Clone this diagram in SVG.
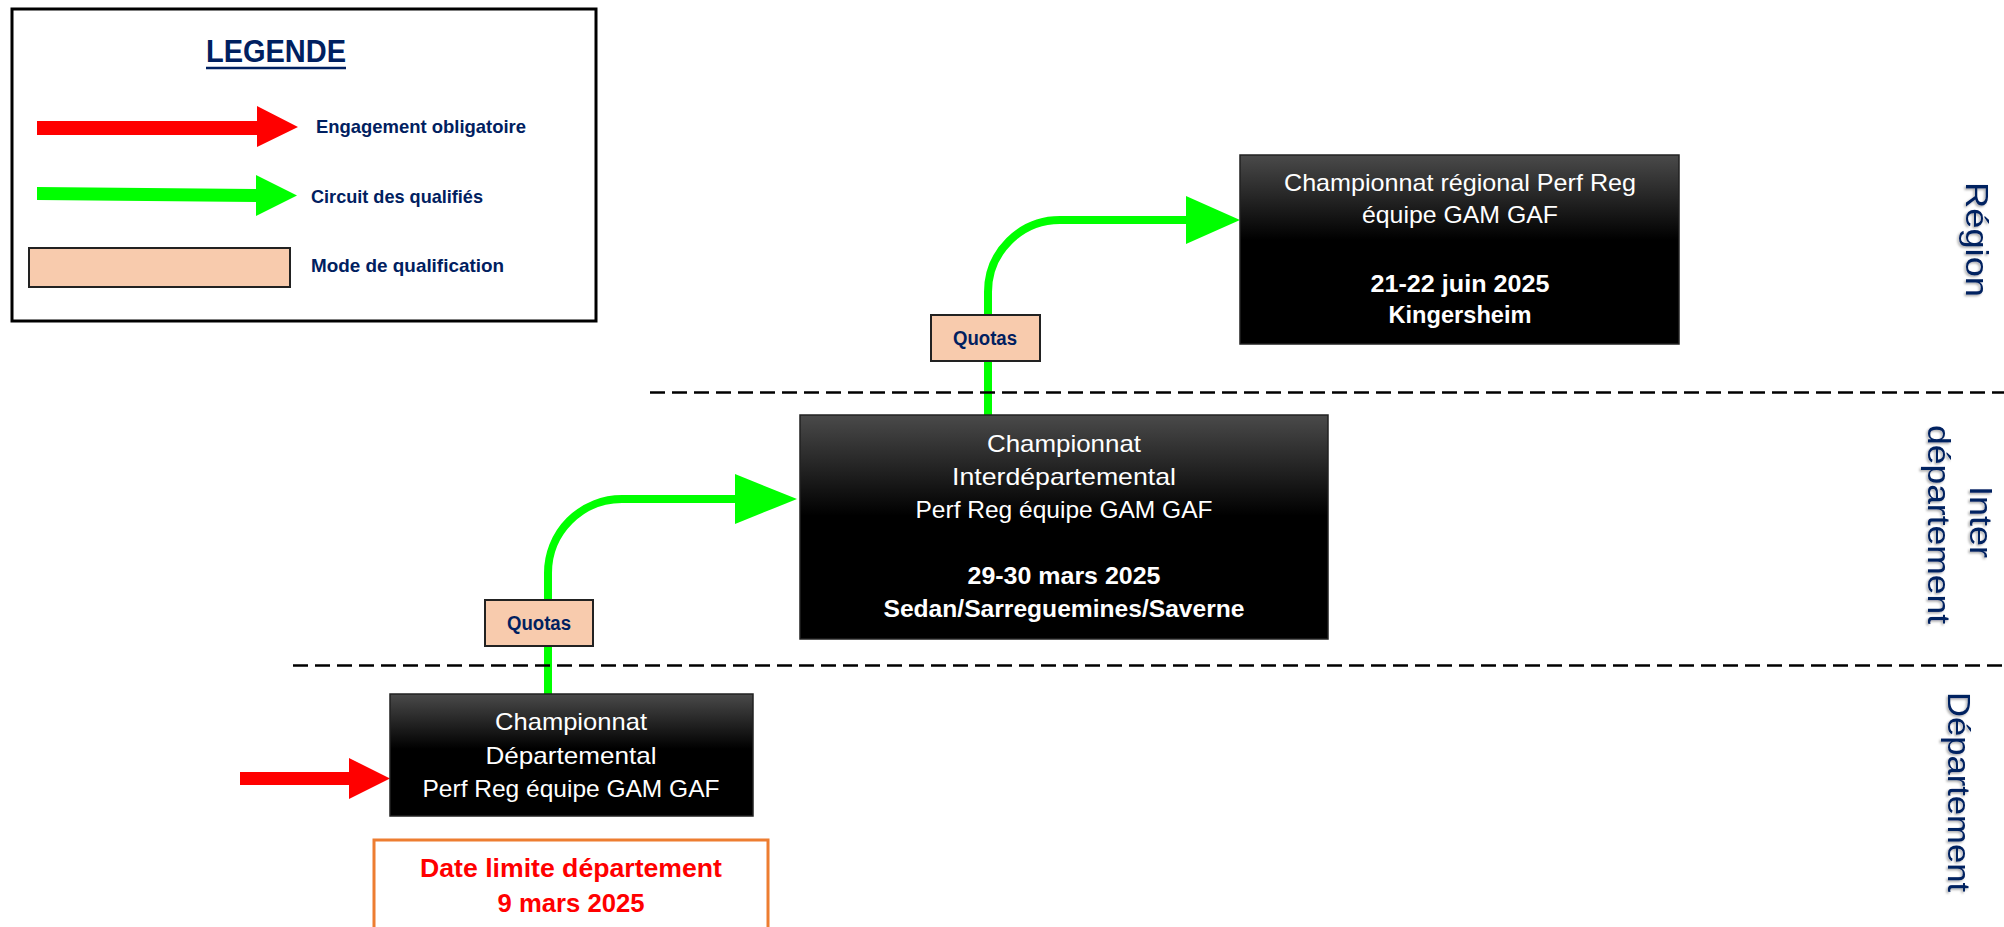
<svg xmlns="http://www.w3.org/2000/svg" width="2004" height="927" viewBox="0 0 2004 927">
<defs>
<linearGradient id="boxGrad" x1="0" y1="0" x2="0" y2="1">
<stop offset="0" stop-color="#4a4a4a"/>
<stop offset="0.45" stop-color="#000"/>
<stop offset="1" stop-color="#000"/>
</linearGradient>
<filter id="shadow" x="-20%" y="-20%" width="140%" height="140%">
<feDropShadow dx="1.5" dy="1.5" stdDeviation="1.2" flood-color="#000" flood-opacity="0.35"/>
</filter>
</defs>
<style>
.box{fill:url(#boxGrad);stroke:#222;stroke-width:1.5}
.wt{fill:#fff;font-family:"Liberation Sans",Arial,sans-serif;font-size:24px;text-anchor:middle}
.wb{font-weight:bold}
.navy{fill:#002060;font-family:"Liberation Sans",Arial,sans-serif;font-weight:bold}
.quota{fill:#F8CBAD;stroke:#222;stroke-width:2}
.green{fill:none;stroke:#00FF00;stroke-width:8}
.gh{fill:#00FF00}
.red{fill:#FF0000}
.sep{stroke:#000;stroke-width:2.5;stroke-dasharray:15 7}
.vlab{fill:#002060;font-family:"Liberation Sans",Arial,sans-serif;font-size:32px;filter:url(#shadow)}
.rt{fill:#FF0000;font-family:"Liberation Sans",Arial,sans-serif;font-weight:bold;font-size:25px;text-anchor:middle}
</style>

<g id="connectors">
<path class="green" d="M548,694 V573 A74,74 0 0 1 622,499 H740"/>
<polygon class="gh" points="735,474 797,499 735,524"/>
<path class="green" d="M988,415 V292 A72,72 0 0 1 1060,220 H1190"/>
<polygon class="gh" points="1186,196 1240,220 1186,244"/>
<polygon id="entry-arrow" class="red" points="240,772 349,772 349,758 390,778.5 349,799 349,785 240,785"/>
</g>

<g id="separators">
<line class="sep" x1="650" y1="392.5" x2="2004" y2="392.5"/>
<line class="sep" x1="293" y1="665.5" x2="2004" y2="665.5"/>
</g>

<g id="legend">
<rect x="12" y="9" width="584" height="312" fill="#fff" stroke="#000" stroke-width="3"/>
<text class="navy" x="206" y="62" font-size="31" textLength="140" lengthAdjust="spacingAndGlyphs">LEGENDE</text>
<line x1="206" y1="68" x2="346" y2="68" stroke="#002060" stroke-width="2.5"/>
<polygon class="red" points="37,121 257,121 257,106 298,127 257,147 257,135 37,135"/>
<text class="navy" x="316" y="133" font-size="19" textLength="210" lengthAdjust="spacingAndGlyphs">Engagement obligatoire</text>
<polygon class="gh" points="37,187 256,189 256,175 297,195.5 256,216 256,202 37,200"/>
<text class="navy" x="311" y="203" font-size="19" textLength="172" lengthAdjust="spacingAndGlyphs">Circuit des qualifiés</text>
<rect class="quota" x="29" y="248" width="261" height="39"/>
<text class="navy" x="311" y="272" font-size="19" textLength="193" lengthAdjust="spacingAndGlyphs">Mode de qualification</text>
</g>

<g id="node-region">
<rect class="box" x="1240" y="155" width="439" height="189"/>
<text class="wt" x="1460" y="191" textLength="352" lengthAdjust="spacingAndGlyphs">Championnat régional Perf Reg</text>
<text class="wt" x="1460" y="223" textLength="196" lengthAdjust="spacingAndGlyphs">équipe GAM GAF</text>
<text class="wt wb" x="1460" y="292" textLength="179" lengthAdjust="spacingAndGlyphs">21-22 juin 2025</text>
<text class="wt wb" x="1460" y="323" textLength="143" lengthAdjust="spacingAndGlyphs">Kingersheim</text>
</g>

<g id="node-inter">
<rect class="box" x="800" y="415" width="528" height="224"/>
<text class="wt" x="1064" y="452" textLength="154" lengthAdjust="spacingAndGlyphs">Championnat</text>
<text class="wt" x="1064" y="485" textLength="224" lengthAdjust="spacingAndGlyphs">Interdépartemental</text>
<text class="wt" x="1064" y="518" textLength="297" lengthAdjust="spacingAndGlyphs">Perf Reg équipe GAM GAF</text>
<text class="wt wb" x="1064" y="584" textLength="193" lengthAdjust="spacingAndGlyphs">29-30 mars 2025</text>
<text class="wt wb" x="1064" y="617" textLength="361" lengthAdjust="spacingAndGlyphs">Sedan/Sarreguemines/Saverne</text>
</g>

<g id="node-dept">
<rect class="box" x="390" y="694" width="363" height="122"/>
<text class="wt" x="571" y="730" textLength="152" lengthAdjust="spacingAndGlyphs">Championnat</text>
<text class="wt" x="571" y="764" textLength="171" lengthAdjust="spacingAndGlyphs">Départemental</text>
<text class="wt" x="571" y="797" textLength="297" lengthAdjust="spacingAndGlyphs">Perf Reg équipe GAM GAF</text>
</g>

<g id="quotas-1">
<rect class="quota" x="485" y="600" width="108" height="46"/>
<text class="navy" x="539" y="630" font-size="20" text-anchor="middle" textLength="64" lengthAdjust="spacingAndGlyphs">Quotas</text>
</g>

<g id="quotas-2">
<rect class="quota" x="931" y="315" width="109" height="46"/>
<text class="navy" x="985" y="345" font-size="20" text-anchor="middle" textLength="64" lengthAdjust="spacingAndGlyphs">Quotas</text>
</g>

<g id="date-limit">
<rect x="374" y="840" width="394" height="100" fill="#fff" stroke="#ED7D31" stroke-width="3"/>
<text class="rt" x="571" y="877" textLength="302" lengthAdjust="spacingAndGlyphs">Date limite département</text>
<text class="rt" x="571" y="912" textLength="147" lengthAdjust="spacingAndGlyphs">9 mars 2025</text>
</g>

<g id="level-labels">
<text class="vlab" transform="translate(1966,182) rotate(90)" font-size="35" textLength="115" lengthAdjust="spacingAndGlyphs">Région</text>
<text class="vlab" transform="translate(1970,486) rotate(90)" textLength="72" lengthAdjust="spacingAndGlyphs">Inter</text>
<text class="vlab" transform="translate(1928,425) rotate(90)" textLength="199" lengthAdjust="spacingAndGlyphs">département</text>
<text class="vlab" transform="translate(1948,692) rotate(90)" textLength="200" lengthAdjust="spacingAndGlyphs">Département</text>
</g>
</svg>
